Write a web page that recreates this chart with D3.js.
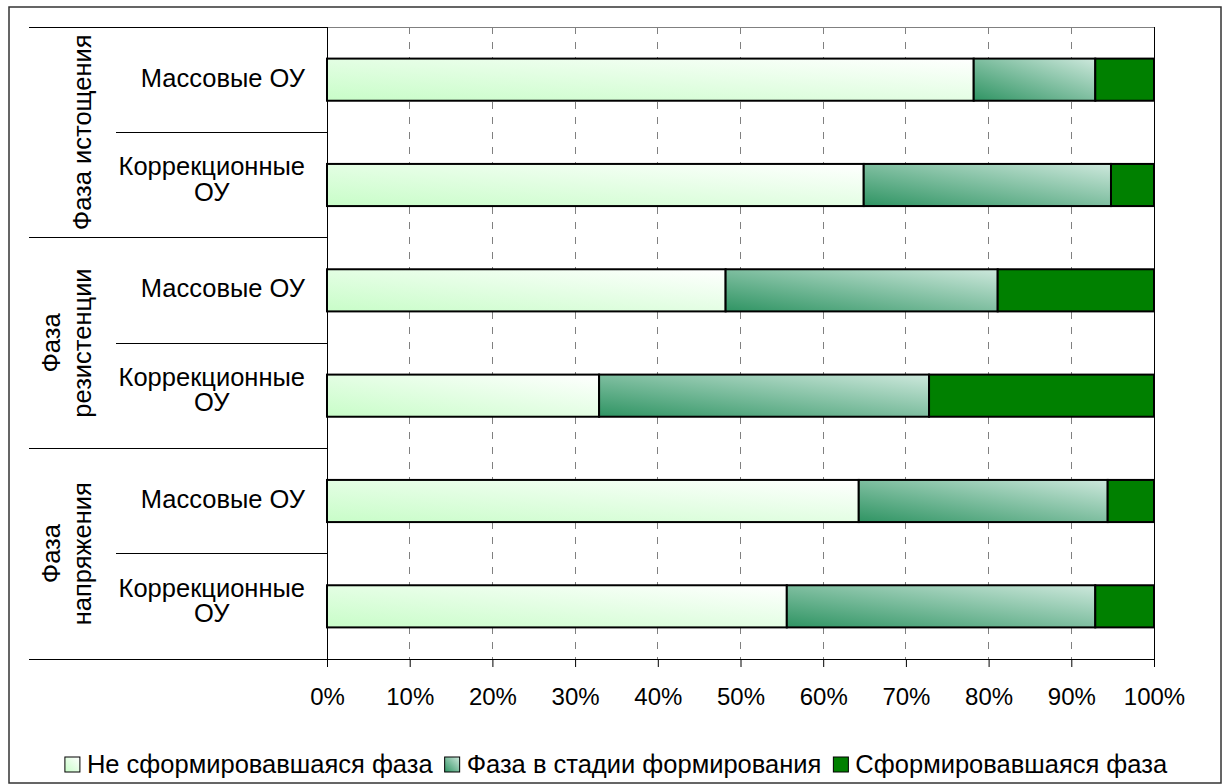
<!DOCTYPE html>
<html>
<head>
<meta charset="utf-8">
<script src="https://cdn.jsdelivr.net/npm/d3@7/dist/d3.min.js"></script>
<style>
  html, body { margin: 0; padding: 0; background: #fff; }
  svg { display: block; font-family: "Liberation Sans", Arial, sans-serif; }
</style>
</head>
<body>
<svg id="chart" width="1223" height="784"></svg>
<script>
// ---------- data ----------
const groupLabels = [["Фаза истощения"], ["Фаза", "резистенции"], ["Фаза", "напряжения"]];
const subLabels = [["Массовые ОУ"], ["Коррекционные", "ОУ"]];
const seriesNames = ["Не сформировавшаяся фаза", "Фаза в стадии формирования", "Сформировавшаяся фаза"];
// rows top to bottom: (истощения: массовые, коррекционные), (резистенции: ...), (напряжения: ...)
const notFormed = [78.2, 64.9, 48.2, 32.9, 64.3, 55.6];
const forming   = [14.7, 29.9, 32.9, 39.9, 30.1, 37.3];
const formed    = [7.1, 5.2, 18.9, 27.2, 5.6, 7.1];
const tickValues = [0, 10, 20, 30, 40, 50, 60, 70, 80, 90, 100];

// ---------- build ----------
const rows = [];
groupLabels.forEach((g, gi) => subLabels.forEach((s, si) => rows.push({ id: gi + "-" + si, gi, si })));
rows.forEach((r, i) => { r.s0 = notFormed[i]; r.s1 = forming[i]; r.s2 = formed[i]; });

const svg = d3.select("#chart");
const plot = { left: 327, right: 1154, top: 27, bottom: 659 };
const FS = 25.5;

const x = d3.scaleLinear().domain([0, 100]).range([plot.left, plot.right]);
const y = d3.scaleBand().domain(rows.map(r => r.id)).range([plot.top, plot.bottom])
  .paddingInner(0.6).paddingOuter(0.3);

// gradients
const defs = svg.append("defs");
function grad(id, c0, c1) {
  const g = defs.append("linearGradient").attr("id", id)
    .attr("x1", 0).attr("y1", 1).attr("x2", 1).attr("y2", 0);
  g.append("stop").attr("offset", "0%").attr("stop-color", c0);
  g.append("stop").attr("offset", "100%").attr("stop-color", c1);
}
grad("g0", "#c8fdc8", "#ffffff");
grad("g1", "#2f9463", "#cde8dc");
const fills = ["url(#g0)", "url(#g1)", "#008000"];

// outer border
svg.append("rect").attr("x", 9).attr("y", 7).attr("width", 1212).attr("height", 776)
  .attr("fill", "#fff").attr("stroke", "#333").attr("stroke-width", 1.5);

// gridlines
svg.append("g").selectAll("line").data(tickValues.filter(v => v > 0 && v < 100)).join("line")
  .attr("x1", d => x(d)).attr("x2", d => x(d))
  .attr("y1", plot.top).attr("y2", plot.bottom)
  .attr("stroke", "#808080").attr("stroke-width", 1).attr("stroke-dasharray", "7,8")
  .attr("shape-rendering", "crispEdges");

// plot border top (grey) and right (black)
svg.append("line").attr("x1", plot.left).attr("x2", plot.right).attr("y1", plot.top).attr("y2", plot.top)
  .attr("stroke", "#808080").attr("stroke-width", 1).attr("shape-rendering", "crispEdges");
svg.append("line").attr("x1", plot.right).attr("x2", plot.right).attr("y1", plot.top).attr("y2", plot.bottom)
  .attr("stroke", "#000").attr("stroke-width", 1).attr("shape-rendering", "crispEdges");

// stacked bars
const stack = d3.stack().keys(["s0", "s1", "s2"]);
const stacked = stack(rows);
svg.append("g").selectAll("g").data(stacked).join("g")
  .attr("fill", (d, i) => fills[i])
  .selectAll("rect").data(d => d).join("rect")
  .attr("x", d => x(d[0])).attr("width", d => x(d[1]) - x(d[0]))
  .attr("y", d => y(d.data.id)).attr("height", y.bandwidth())
  .attr("stroke", "#000").attr("stroke-width", 2);

// x axis
const xAxis = d3.axisBottom(x).tickValues(tickValues).tickFormat(d => d + "%").tickSize(8).tickSizeOuter(0);
const ax = svg.append("g").attr("transform", `translate(0,${plot.bottom})`).call(xAxis);
ax.select(".domain").remove();
ax.selectAll(".tick line").attr("stroke", "#000");
ax.selectAll(".tick text").attr("font-size", 24).attr("font-family", "Liberation Sans, Arial, sans-serif")
  .attr("fill", "#000").attr("y", 0).attr("dy", 0).attr("transform", "translate(0,46)");

// axis lines
svg.append("line").attr("x1", 29).attr("x2", plot.right).attr("y1", plot.bottom).attr("y2", plot.bottom)
  .attr("stroke", "#000").attr("shape-rendering", "crispEdges");
svg.append("line").attr("x1", plot.left).attr("x2", plot.left).attr("y1", plot.top).attr("y2", plot.bottom + 8)
  .attr("stroke", "#000").attr("shape-rendering", "crispEdges");

// category separators
const step = y.step();
const half = step / 2;
rows.forEach(r => {
  const top = y(r.id) + y.bandwidth() / 2 - half;
  const x1 = r.si === 0 ? 29 : 116;
  svg.append("line").attr("x1", x1).attr("x2", plot.left).attr("y1", top).attr("y2", top)
    .attr("stroke", "#000").attr("shape-rendering", "crispEdges");
});

// sub category labels
const lab = svg.append("g").attr("font-size", FS).attr("fill", "#000");
rows.forEach(r => {
  const lines = subLabels[r.si];
  const cy = y(r.id) + y.bandwidth() / 2;
  const lh = 25.5;
  const t = lab.append("text").attr("text-anchor", "middle");
  const y0 = cy + 7 - (lines.length - 1) * lh / 2 - (lines.length > 1 ? 4 : 0);
  lines.forEach((ln, k) => t.append("tspan").attr("x", 0).attr("y", y0 + k * lh).text(ln));
  const w = d3.max(t.selectAll("tspan").nodes(), n => n.getComputedTextLength());
  t.selectAll("tspan").attr("x", 305 - w / 2);
});

// group labels (rotated)
groupLabels.forEach((lines, gi) => {
  const ids = rows.filter(r => r.gi === gi).map(r => r.id);
  const top = y(ids[0]) + y.bandwidth() / 2 - half;
  const bot = y(ids[ids.length - 1]) + y.bandwidth() / 2 + half;
  const cy = (top + bot) / 2;
  const lastBase = 91, lh = 31;
  lines.forEach((ln, k) => {
    const bx = lastBase - (lines.length - 1 - k) * lh;
    lab.append("text").attr("text-anchor", "middle")
      .attr("transform", `translate(${bx},${cy}) rotate(-90)`).text(ln);
  });
});

// legend
const leg = svg.append("g").attr("font-size", FS).attr("fill", "#000");
const items = [];
seriesNames.forEach((name, i) => {
  const g = leg.append("g");
  g.append("rect").attr("x", 0).attr("y", -16).attr("width", 15).attr("height", 15)
    .attr("fill", fills[i]).attr("stroke", "#000").attr("stroke-width", 1);
  const t = g.append("text").attr("x", 22).attr("y", 0).text(name);
  const w = 22 + t.node().getComputedTextLength();
  items.push({ g, w });
});
const gap = 12;
const total = d3.sum(items, d => d.w) + gap * (items.length - 1);
let lx = 616 - total / 2;
items.forEach(it => { it.g.attr("transform", `translate(${lx},773)`); lx += it.w + gap; });
</script>
</body>
</html>
